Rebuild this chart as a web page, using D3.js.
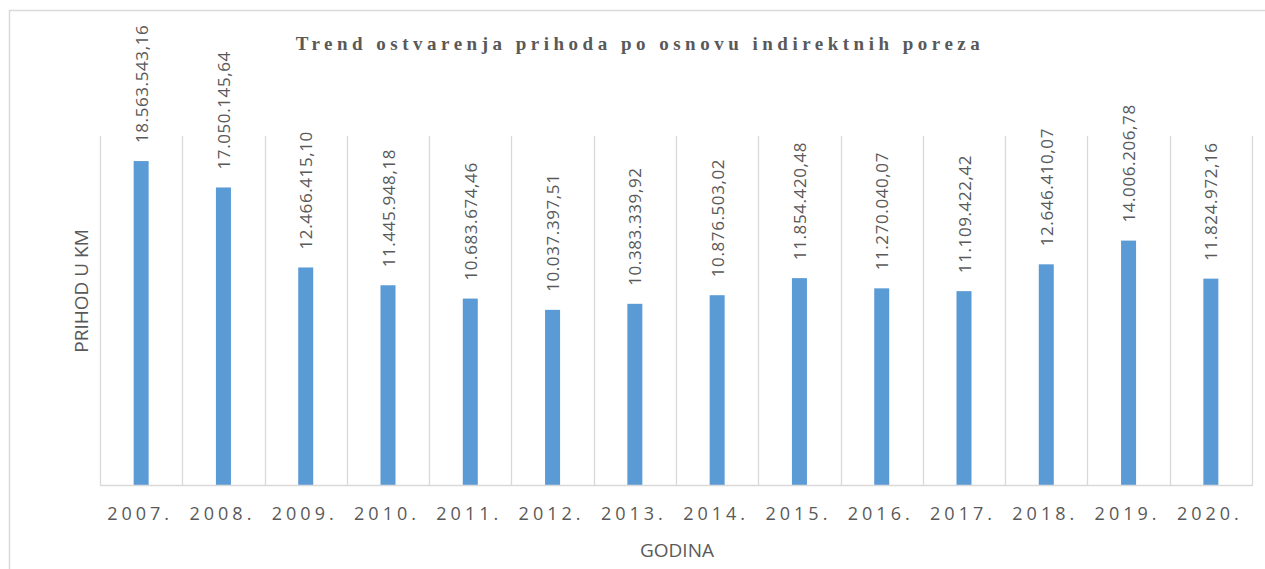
<!doctype html>
<html lang="en">
<head>
<meta charset="utf-8">
<title>Trend ostvarenja prihoda po osnovu indirektnih poreza</title>
<script src="https://d3js.org/d3.v7.min.js"></script>
<style>
  body { margin: 0; background: #fff; }
  svg { display: block; }
</style>
</head>
<body>
<svg id="chart" width="1265" height="569"></svg>
<script>
// values
var years = ["2007.", "2008.", "2009.", "2010.", "2011.", "2012.", "2013.",
             "2014.", "2015.", "2016.", "2017.", "2018.", "2019.", "2020."];
var revenue = [18563543.16, 17050145.64, 12466415.10, 11445948.18, 10683674.46,
               10037397.51, 10383339.92, 10876503.02, 11854420.48, 11270040.07,
               11109422.42, 12646410.07, 14006206.78, 11824972.16];
var valueLabels = ["18.563.543,16", "17.050.145,64", "12.466.415,10", "11.445.948,18",
                   "10.683.674,46", "10.037.397,51", "10.383.339,92", "10.876.503,02",
                   "11.854.420,48", "11.270.040,07", "11.109.422,42", "12.646.410,07",
                   "14.006.206,78", "11.824.972,16"];

(function() {
   var svg = d3.select("#chart");
   var textColor = "#595959";
   var gridColor = "#d9d9d9";

   // chart frame
   svg.append("path")
      .attr("d", "M9.5,569 L9.5,10.5 L1265,10.5")
      .attr("fill", "none")
      .attr("stroke", gridColor)
      .attr("stroke-width", 1.5);

   var plotLeft = 100, plotRight = 1252, plotTop = 136, plotBottom = 485;

   var x = d3.scaleBand().domain(years).range([plotLeft, plotRight]);
   var y = d3.scaleLinear().domain([0, 20000000]).range([plotBottom, plotTop]);

   // vertical category gridlines
   var edges = years.map(function(d) { return x(d); }).concat([plotRight]);
   svg.append("g")
      .selectAll("line")
      .data(edges)
      .enter().append("line")
      .attr("x1", function(d) { return Math.round(d) + 0.5; })
      .attr("x2", function(d) { return Math.round(d) + 0.5; })
      .attr("y1", plotTop)
      .attr("y2", plotBottom)
      .attr("stroke", gridColor)
      .attr("stroke-width", 1.3);

   // bars
   var barW = 15;
   svg.append("g")
      .selectAll("rect")
      .data(revenue)
      .enter().append("rect")
      .attr("x", function(d, i) { return x(years[i]) + x.bandwidth() / 2 - barW / 2; })
      .attr("y", function(d) { return y(d); })
      .attr("width", barW)
      .attr("height", function(d) { return plotBottom - y(d); })
      .attr("fill", "#5b9bd5");

   // x axis line
   svg.append("line")
      .attr("x1", plotLeft).attr("x2", plotRight + 1)
      .attr("y1", plotBottom + 0.5).attr("y2", plotBottom + 0.5)
      .attr("stroke", gridColor)
      .attr("stroke-width", 1.5);

   // value labels, rotated
   svg.append("g")
      .selectAll("text")
      .data(revenue)
      .enter().append("text")
      .attr("transform", function(d, i) {
         var cx = x(years[i]) + x.bandwidth() / 2 + 6.5;
         return "translate(" + cx + "," + (y(d) - 18) + ") rotate(-90)";
      })
      .attr("font-family", "Open Sans, sans-serif")
      .attr("font-size", 17)
      .attr("letter-spacing", 0.6)
      .attr("fill", textColor)
      .text(function(d, i) { return valueLabels[i]; });

   // x tick labels
   svg.append("g")
      .selectAll("text")
      .data(years)
      .enter().append("text")
      .attr("x", function(d) { return x(d) + x.bandwidth() / 2 - 1; })
      .attr("y", 520)
      .attr("text-anchor", "middle")
      .attr("font-family", "Open Sans, sans-serif")
      .attr("font-size", 18)
      .attr("letter-spacing", 4)
      .attr("fill", textColor)
      .text(function(d) { return d; });

   // title
   svg.append("text")
      .attr("x", 640)
      .attr("y", 50)
      .attr("text-anchor", "middle")
      .attr("font-family", "Liberation Serif, Times New Roman, serif")
      .attr("font-weight", "bold")
      .attr("font-size", 19)
      .attr("letter-spacing", 4.5)
      .attr("fill", textColor)
      .text("Trend ostvarenja prihoda po osnovu indirektnih poreza");

   // axis titles
   svg.append("text")
      .attr("transform", "translate(88,291) rotate(-90)")
      .attr("text-anchor", "middle")
      .attr("font-family", "Open Sans, sans-serif")
      .attr("font-size", 19)
      .attr("fill", textColor)
      .text("PRIHOD U KM");

   svg.append("text")
      .attr("x", 677)
      .attr("y", 557)
      .attr("text-anchor", "middle")
      .attr("font-family", "Open Sans, sans-serif")
      .attr("font-size", 19)
      .attr("fill", textColor)
      .text("GODINA");
})();
</script>
</body>
</html>
